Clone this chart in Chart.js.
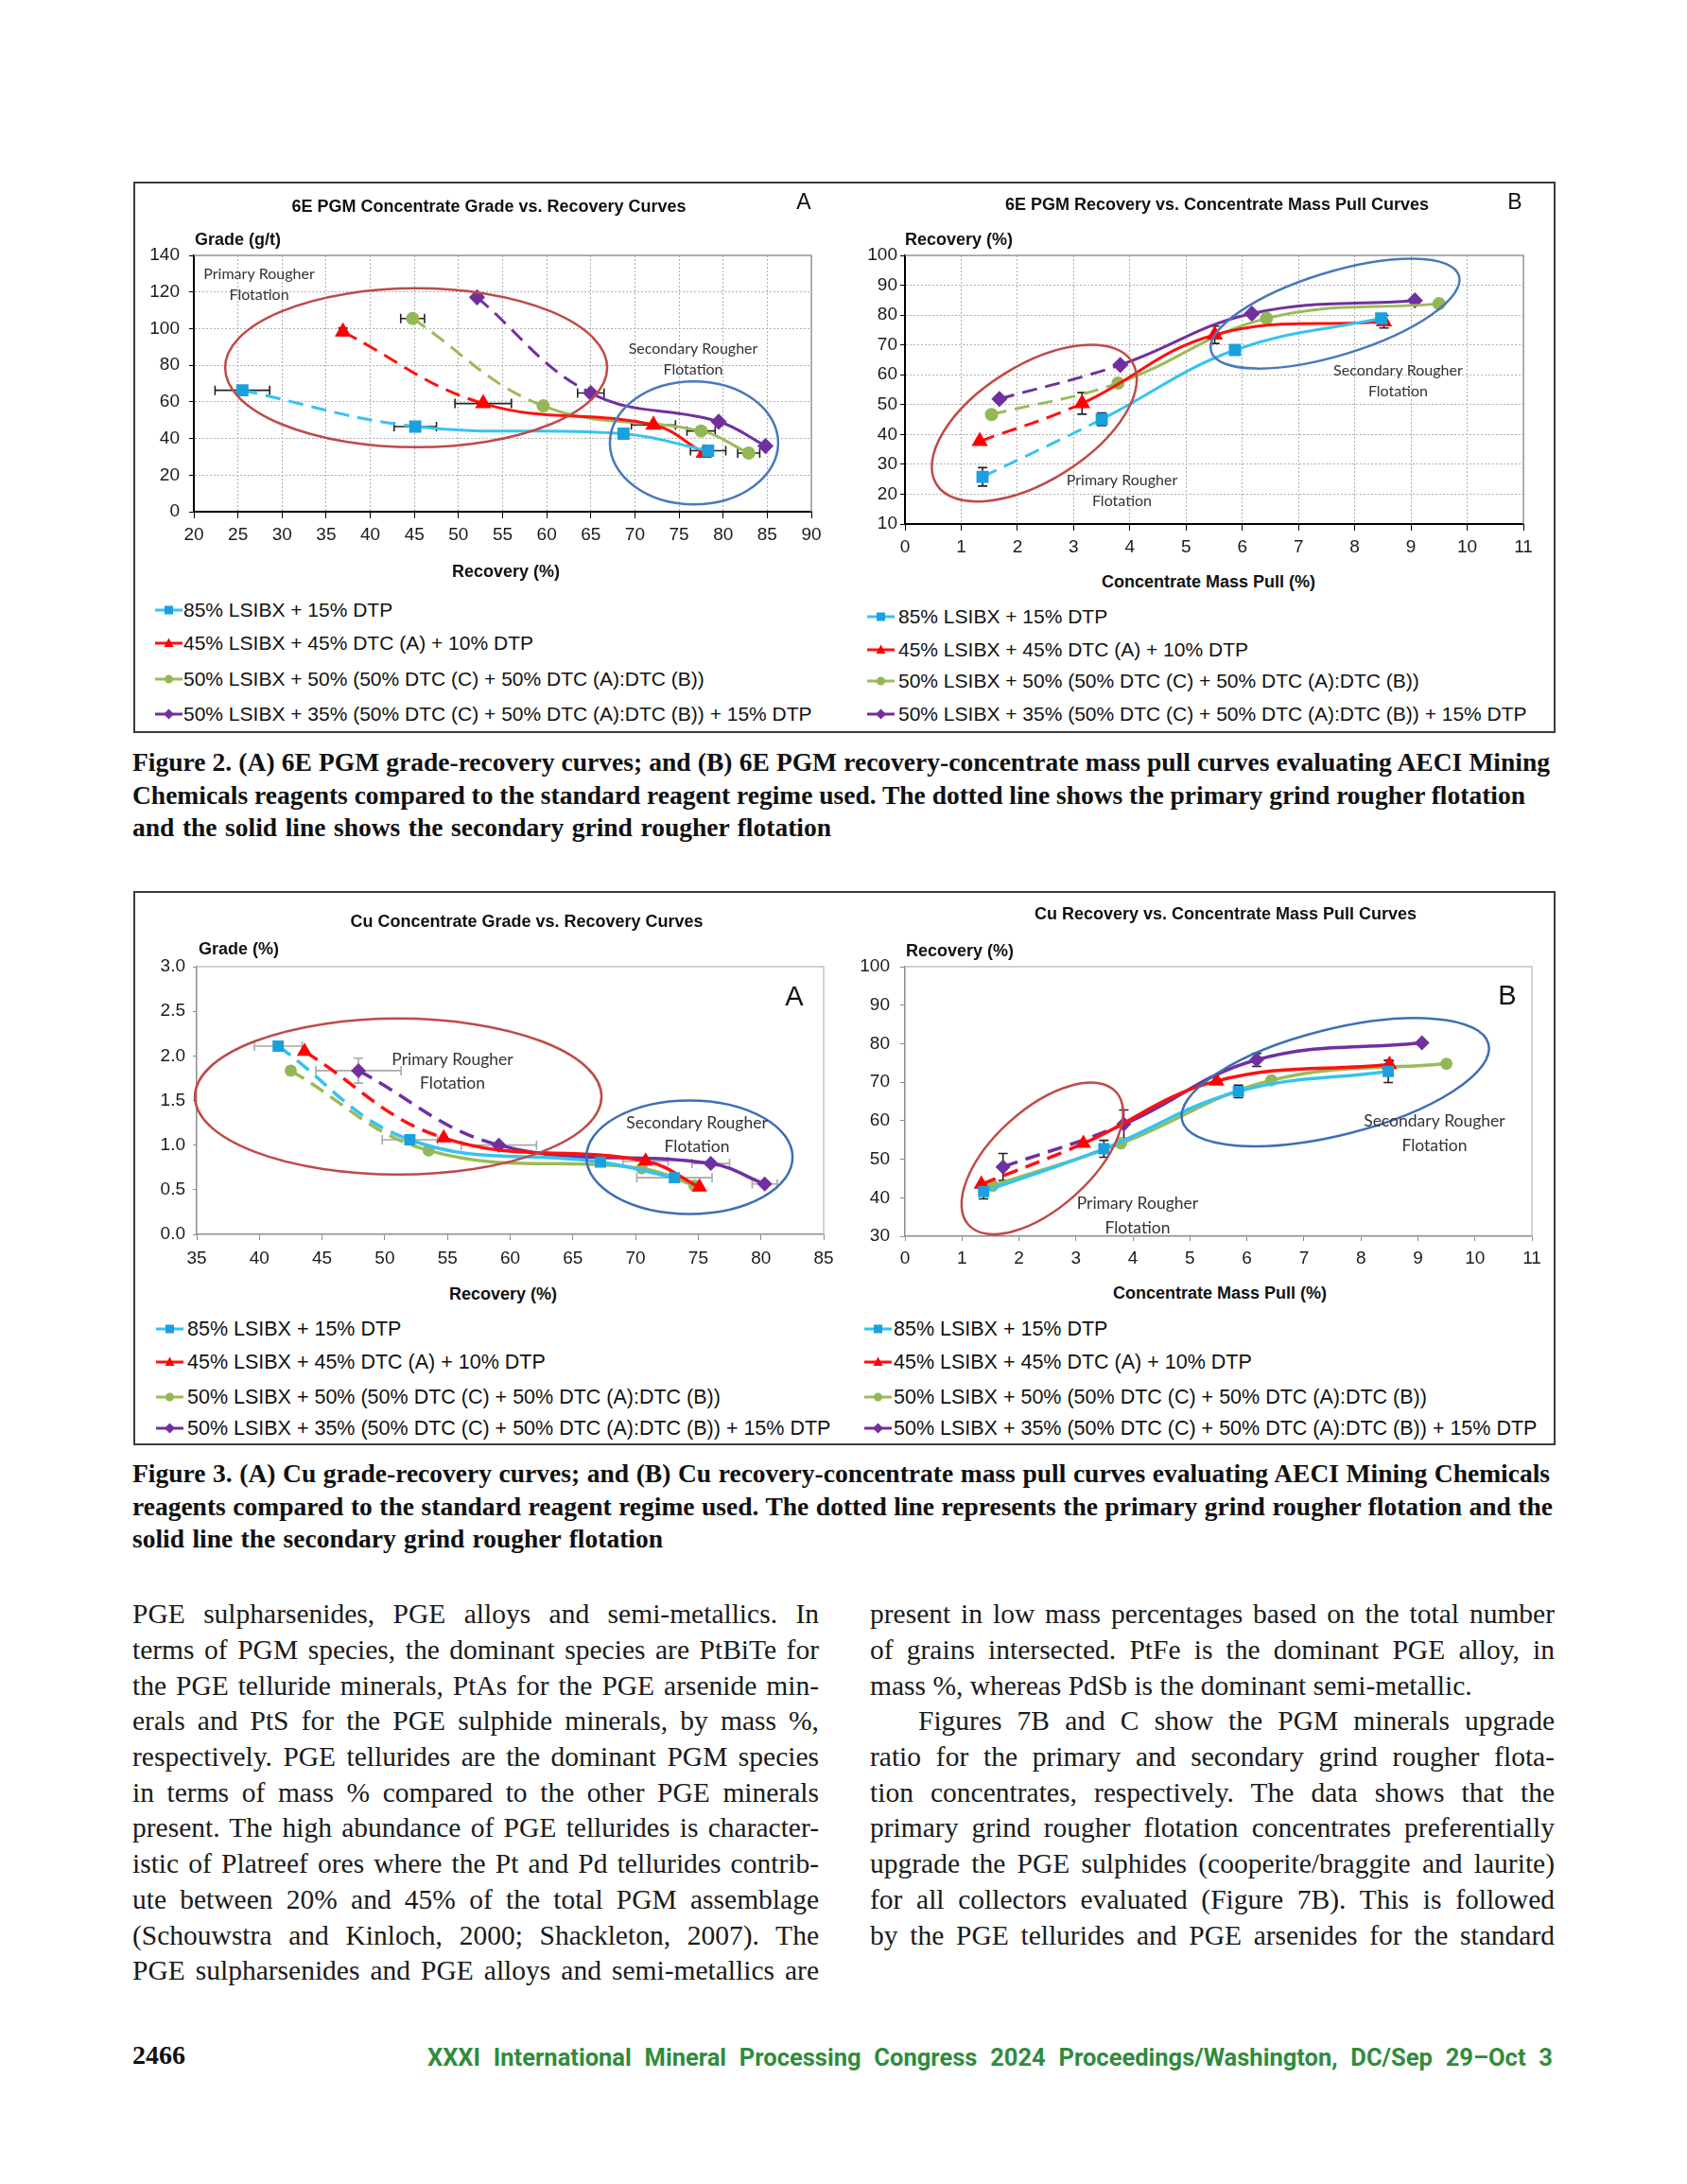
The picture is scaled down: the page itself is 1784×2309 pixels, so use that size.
<!DOCTYPE html>
<html>
<head>
<meta charset="utf-8">
<title>Grade-recovery and recovery-mass pull curves</title>
<script src="https://cdn.jsdelivr.net/npm/chart.js@4.4.1/dist/chart.umd.min.js"></script>
<style>
  html, body { margin: 0; padding: 0; background: #fff; }
  body { position: relative; width: 1784px; height: 2309px; overflow: hidden; }
  .t { position: absolute; white-space: nowrap; line-height: 1; color: #111; }
  .frame { position: absolute; border: 2px solid #3c3c3c; box-sizing: border-box; }
  canvas { position: absolute; }
</style>
</head>
<body>
<div class="frame" style="left:141px;top:192px;width:1504px;height:583px"></div>
<div class="frame" style="left:141px;top:942px;width:1504px;height:586px"></div>
<script>
// the four reagent regimes, same order in every panel
const seriesNames = [
  '85% LSIBX + 15% DTP',
  '45% LSIBX + 45% DTC (A) + 10% DTP',
  '50% LSIBX + 50% (50% DTC (C) + 50% DTC (A):DTC (B))',
  '50% LSIBX + 35% (50% DTC (C) + 50% DTC (A):DTC (B)) + 15% DTP'
];

// Figure 2A - 6E PGM grade (g/t) vs recovery (%)
const pgmGradeRec = [[25.5, 45.1, 68.7, 78.3], [36.9, 52.8, 72.1, 77.8], [44.8, 59.6, 77.5, 82.9], [52.1, 65.0, 79.5, 84.8]];
const pgmGrade = [[66.3, 46.5, 42.6, 33.3], [98.3, 59.1, 47.4, 32.0], [105.5, 57.8, 44.1, 32.0], [117.1, 64.8, 49.2, 35.9]];
const pgmGradeRecErr = [[3.1, 2.4, 0, 2.0], [0, 3.2, 2.5, 0], [1.35, 0, 1.6, 1.25], [0, 1.5, 0, 0]];
const pgmGradeErr = [[0, 0, 0, 0], [2, 0, 0, 0], [0, 0, 0, 0], [0, 0, 0, 0]];

// Figure 2B - 6E PGM recovery (%) vs concentrate mass pull (%)
const pgmMassPull = [[1.38, 3.5, 5.87, 8.47], [1.33, 3.15, 5.51, 8.52], [1.54, 3.79, 6.43, 9.5], [1.68, 3.83, 6.17, 9.07]];
const pgmRecovery = [[25.8, 45.1, 68.3, 78.9], [37.7, 50.4, 73.4, 77.8], [46.7, 57.2, 78.9, 83.8], [51.9, 63.3, 80.5, 84.9]];
const pgmRecoveryErr = [[3.1, 2.1, 0, 0], [0, 3.6, 2.9, 2.1], [0, 0, 0, 0], [0, 0, 0, 0]];

// Figure 3A - Cu grade (%) vs recovery (%)
const cuGradeRec = [[41.5, 52.0, 67.2, 73.1], [43.6, 54.7, 70.8, 75.1], [42.5, 53.5, 70.5, 74.7], [47.9, 59.1, 76.0, 80.3]];
const cuGrade = [[2.11, 1.06, 0.81, 0.635], [2.05, 1.08, 0.82, 0.53], [1.835, 0.94, 0.74, 0.547], [1.835, 1.0, 0.794, 0.564]];
const cuGradeRecErr = [[1.9, 2.2, 0, 3.0], [0, 0, 1.8, 0], [0, 0, 0, 0], [3.4, 3.0, 1.5, 1.0]];
const cuGradeErr = [[0, 0, 0, 0], [0, 0, 0, 0], [0, 0, 0, 0], [0.14, 0, 0, 0]];

// Figure 3B - Cu recovery (%) vs concentrate mass pull (%)
const cuMassPull = [[1.38, 3.49, 5.85, 8.48], [1.34, 3.13, 5.47, 8.5], [1.54, 3.79, 6.43, 9.5], [1.72, 3.84, 6.17, 9.07]];
const cuRecovery = [[41.6, 52.7, 67.6, 72.8], [43.5, 54.1, 70.3, 74.6], [43.1, 54.1, 70.5, 74.8], [48.0, 59.1, 75.8, 80.2]];
const cuRecoveryErr = [[1.9, 2.2, 1.6, 2.9], [0, 0, 0, 1.0], [0, 0, 0, 0], [3.5, 3.7, 1.7, 0]];

// axis ranges [min, max, step]
const axes2A = { x: [20, 90, 5], y: [0, 140, 20] };
const axes2B = { x: [0, 11, 1], y: [10, 100, 10] };
const axes3A = { x: [35, 85, 5], y: [0, 3, 0.5] };
const axes3B = { x: [0, 11, 1], y: [30, 100, 10] };

// styling
const lineColors = ['#35C3F2', '#FF1010', '#9BBB59', '#7030A0'];
const markerColors = ['#1BA0DD', '#FF0000', '#94B756', '#7030A0'];
const markerStyles = ['rect', 'triangle', 'circle', 'rectRot'];
const markerRadius = [7, 7, 5.5, 6.5];
const SANS = "'Liberation Sans', Arial, sans-serif";
const NOTE = "Lato, 'Open Sans', sans-serif";

function txt(s, x, y, css, anchor) {
  const d = document.createElement('div');
  d.className = 't';
  d.textContent = s;
  d.style.cssText += css;
  d.style.left = x + 'px';
  d.style.top = y + 'px';
  d.style.transform = anchor === 'c' ? 'translate(-50%,-50%)' : 'translate(0,-50%)';
  document.body.appendChild(d);
  return d;
}

function decor(o) {
  return {
    id: 'decor',
    beforeDatasetsDraw(chart) {
      const { ctx, chartArea: a, scales: { x, y } } = chart;
      ctx.save();
      ctx.strokeStyle = o.frameColor;
      ctx.lineWidth = 1.5;
      ctx.beginPath();
      ctx.moveTo(a.left, a.top); ctx.lineTo(a.right, a.top); ctx.lineTo(a.right, a.bottom);
      ctx.stroke();
      // error bars
      ctx.strokeStyle = o.errColor;
      ctx.lineWidth = 1.6;
      o.xs.forEach((xv, i) => xv.forEach((xx, j) => {
        const yy = o.ys[i][j];
        const px = x.getPixelForValue(xx), py = y.getPixelForValue(yy);
        const ex = o.xErr ? o.xErr[i][j] : 0, ey = o.yErr ? o.yErr[i][j] : 0;
        ctx.beginPath();
        if (ex) {
          const l = x.getPixelForValue(xx - ex), r = x.getPixelForValue(xx + ex);
          ctx.moveTo(l, py); ctx.lineTo(r, py);
          ctx.moveTo(l, py - 5); ctx.lineTo(l, py + 5);
          ctx.moveTo(r, py - 5); ctx.lineTo(r, py + 5);
        }
        if (ey) {
          const t = y.getPixelForValue(yy + ey), b = y.getPixelForValue(yy - ey);
          ctx.moveTo(px, t); ctx.lineTo(px, b);
          ctx.moveTo(px - 5, t); ctx.lineTo(px + 5, t);
          ctx.moveTo(px - 5, b); ctx.lineTo(px + 5, b);
        }
        ctx.stroke();
      }));
      ctx.restore();
    },
    afterDatasetsDraw(chart) {
      const { ctx, scales: { x, y } } = chart;
      ctx.save();
      ctx.lineWidth = 2.5;
      o.ellipses.forEach(e => {
        ctx.strokeStyle = e.color;
        ctx.beginPath();
        ctx.ellipse(x.getPixelForValue(e.cx), y.getPixelForValue(e.cy), e.rx, e.ry, e.rot * Math.PI / 180, 0, Math.PI * 2);
        ctx.stroke();
      });
      ctx.fillStyle = '#333';
      ctx.font = o.noteSize + 'px ' + NOTE;
      ctx.textAlign = 'center';
      ctx.textBaseline = 'middle';
      o.notes.forEach(n => ctx.fillText(n.t, x.getPixelForValue(n.x), y.getPixelForValue(n.y)));
      ctx.restore();
    }
  };
}

function buildChart(o) {
  const cv = document.createElement('canvas');
  cv.width = o.canvas.w; cv.height = o.canvas.h;
  cv.style.left = o.canvas.x + 'px'; cv.style.top = o.canvas.y + 'px';
  cv.style.width = o.canvas.w + 'px'; cv.style.height = o.canvas.h + 'px';
  document.body.appendChild(cv);
  const XH = 46;
  const datasets = o.xs.map((xv, i) => ({
    label: seriesNames[i],
    data: xv.map((xx, j) => ({ x: xx, y: o.ys[i][j] })),
    borderColor: lineColors[i],
    backgroundColor: markerColors[i],
    pointBorderColor: markerColors[i],
    pointBackgroundColor: markerColors[i],
    pointStyle: markerStyles[i],
    pointRadius: markerRadius[i] * o.markerScale,
    borderWidth: o.lineWidth,
    tension: 0.4,
    fill: false,
    segment: { borderDash: c => (c.p0DataIndex < o.dashed[i] ? [16, 9] : undefined) }
  }));
  const tickFont = { family: SANS, size: 19 };
  const axis = (rng, fit, tl, pad, fmt) => ({
    type: 'linear', min: rng[0], max: rng[1],
    ticks: { stepSize: rng[2], autoSkip: false, maxRotation: 0, color: '#1a1a1a', font: tickFont, padding: pad,
             callback: fmt || (v => v) },
    grid: { drawOnChartArea: o.grid, color: '#b0b0b0', tickColor: o.axisColor, tickLength: tl, lineWidth: 1 },
    border: { color: o.axisColor, width: o.axisWidth, dash: [2, 2] },
    afterFit: fit
  });
  new Chart(cv, {
    type: 'line',
    data: { datasets },
    options: {
      responsive: false, animation: false, events: [],
      layout: { padding: { left: 0, top: o.plot.t - o.canvas.y, right: o.canvas.x + o.canvas.w - o.plot.r,
                           bottom: o.canvas.y + o.canvas.h - o.plot.b - XH } },
      plugins: { legend: { display: false }, tooltip: { enabled: false } },
      scales: {
        x: axis(o.axes.x, s => { s.height = XH; }, o.xTick[0], o.xTick[1]),
        y: axis(o.axes.y, s => { s.width = o.plot.l - o.canvas.x; }, o.yTick[0], o.yTick[1], o.yFmt)
      }
    },
    plugins: [decor(o)]
  });
}

// ---- Figure 2 -------------------------------------------------------
buildChart({
  canvas: { x: 143, y: 200, w: 775, h: 395 }, plot: { l: 205, r: 858, t: 270, b: 541 },
  xs: pgmGradeRec, ys: pgmGrade, xErr: pgmGradeRecErr, yErr: pgmGradeErr, axes: axes2A,
  xTick: [7, 6], yTick: [5, 10], grid: true, axisColor: '#000', axisWidth: 2, frameColor: '#9a9a9a',
  errColor: '#222', lineWidth: 3, markerScale: 1, dashed: [1, 1, 1, 1], noteSize: 16,
  ellipses: [{ cx: 45.2, cy: 78.6, rx: 202, ry: 84, rot: 0, color: '#BF4A48' },
             { cx: 76.7, cy: 37.6, rx: 89, ry: 65, rot: 0, color: '#4A78BE' }],
  notes: [{ t: 'Primary Rougher', x: 27.4, y: 130 }, { t: 'Flotation', x: 27.4, y: 118.6 },
          { t: 'Secondary Rougher', x: 76.6, y: 89 }, { t: 'Flotation', x: 76.6, y: 77.6 }]
});
buildChart({
  canvas: { x: 905, y: 200, w: 735, h: 400 }, plot: { l: 957, r: 1611, t: 270, b: 554 },
  xs: pgmMassPull, ys: pgmRecovery, yErr: pgmRecoveryErr, axes: axes2B,
  xTick: [7, 6], yTick: [5, 3], grid: true, axisColor: '#000', axisWidth: 2, frameColor: '#9a9a9a',
  errColor: '#222', lineWidth: 3, markerScale: 1, dashed: [1, 1, 1, 1], noteSize: 16,
  ellipses: [{ cx: 2.30, cy: 43.8, rx: 122, ry: 61, rot: -32, color: '#BF4A48' },
             { cx: 7.65, cy: 80.5, rx: 137, ry: 44, rot: -17, color: '#4A78BE' }],
  notes: [{ t: 'Primary Rougher', x: 3.86, y: 24.7 }, { t: 'Flotation', x: 3.86, y: 17.6 },
          { t: 'Secondary Rougher', x: 8.77, y: 61.5 }, { t: 'Flotation', x: 8.77, y: 54.4 }]
});

// ---- Figure 3 -------------------------------------------------------
buildChart({
  canvas: { x: 143, y: 950, w: 760, h: 402 }, plot: { l: 208, r: 871, t: 1022, b: 1305 },
  xs: cuGradeRec, ys: cuGrade, xErr: cuGradeRecErr, yErr: cuGradeErr, axes: axes3A,
  xTick: [6, 8], yTick: [4, 8], grid: false, axisColor: '#8c8c8c', axisWidth: 1.5, frameColor: '#c4c4c4',
  errColor: '#a8a8a8', lineWidth: 3.5, markerScale: 0.85, dashed: [1, 1, 1, 1], noteSize: 17.5,
  yFmt: v => v.toFixed(1),
  ellipses: [{ cx: 51.07, cy: 1.544, rx: 215, ry: 82.5, rot: 0, color: '#BF4A48' },
             { cx: 74.3, cy: 0.865, rx: 109, ry: 60, rot: 0, color: '#3D6FB6' }],
  notes: [{ t: 'Primary Rougher', x: 55.4, y: 1.96 }, { t: 'Flotation', x: 55.4, y: 1.69 },
          { t: 'Secondary Rougher', x: 74.9, y: 1.25 }, { t: 'Flotation', x: 74.9, y: 0.98 }]
});
buildChart({
  canvas: { x: 905, y: 950, w: 735, h: 405 }, plot: { l: 957, r: 1620, t: 1022, b: 1307 },
  xs: cuMassPull, ys: cuRecovery, yErr: cuRecoveryErr, axes: axes3B,
  xTick: [5, 7], yTick: [5, 11], grid: false, axisColor: '#8c8c8c', axisWidth: 1.5, frameColor: '#c4c4c4',
  errColor: '#222', lineWidth: 3.5, markerScale: 0.85, dashed: [0, 1, 0, 1], noteSize: 17.5,
  ellipses: [{ cx: 2.41, cy: 50.2, rx: 105, ry: 52, rot: -42, color: '#BF4A48' },
             { cx: 7.55, cy: 70.0, rx: 167, ry: 56, rot: -14, color: '#3D6FB6' }],
  notes: [{ t: 'Primary Rougher', x: 4.08, y: 38.6 }, { t: 'Flotation', x: 4.08, y: 32.2 },
          { t: 'Secondary Rougher', x: 9.29, y: 59.9 }, { t: 'Flotation', x: 9.29, y: 53.6 }]
});

// ---- chart titles, axis titles, panel letters -----------------------
const bold = `font:bold 18px ${SANS};`;
txt('6E PGM Concentrate Grade vs. Recovery Curves', 517, 218, bold, 'c');
txt('6E PGM Recovery  vs. Concentrate Mass Pull Curves', 1287, 216, bold, 'c');
txt('Cu Concentrate Grade vs. Recovery Curves', 557, 974, bold, 'c');
txt('Cu Recovery vs. Concentrate Mass Pull Curves', 1296, 966, bold, 'c');
txt('A', 850, 213, `font:23px ${SANS};`, 'c');
txt('B', 1602, 213, `font:23px ${SANS};`, 'c');
txt('A', 840, 1053, `font:29px ${SANS};`, 'c');
txt('B', 1594, 1052, `font:29px ${SANS};`, 'c');
txt('Grade (g/t)', 206, 253, bold, 'l');
txt('Recovery (%)', 957, 253, bold, 'l');
txt('Grade (%)', 210, 1003, bold, 'l');
txt('Recovery (%)', 958, 1005, bold, 'l');
txt('Recovery (%)', 535, 604, bold, 'c');
txt('Concentrate Mass Pull (%)', 1278, 615, bold, 'c');
txt('Recovery (%)', 532, 1368, bold, 'c');
txt('Concentrate Mass Pull (%)', 1290, 1367, bold, 'c');

// ---- legends ---------------------------------------------------------
function markerSvg(i) {
  const c = markerColors[i];
  if (markerStyles[i] === 'rect') return `<rect x="10" y="4.5" width="9" height="9" fill="${c}"/>`;
  if (markerStyles[i] === 'triangle') return `<polygon points="14.5,3.5 19.5,13 9.5,13" fill="${c}"/>`;
  if (markerStyles[i] === 'circle') return `<circle cx="14.5" cy="9" r="4.5" fill="${c}"/>`;
  return `<polygon points="14.5,3.5 20,9 14.5,14.5 9,9" fill="${c}"/>`;
}
function legend(mx, tx, ys, size) {
  seriesNames.forEach((name, i) => {
    const s = document.createElement('div');
    s.style.cssText = `position:absolute;left:${mx}px;top:${ys[i] - 9}px;width:29px;height:18px`;
    s.innerHTML = `<svg width="29" height="18"><line x1="0" y1="9" x2="29" y2="9" stroke="${lineColors[i]}" stroke-width="3"/>${markerSvg(i)}</svg>`;
    document.body.appendChild(s);
    txt(name, tx, ys[i], `font:${size}px ${SANS};`, 'l');
  });
}
legend(164, 194, [645, 680, 718, 755], 21);
legend(917, 950, [652, 687, 720, 755], 21);
legend(165, 198, [1405, 1440, 1477, 1510], 21.5);
legend(914, 945, [1405, 1440, 1477, 1510], 21.5);

// ---- captions, body text, footer -----------------------------------
function fitLine(el, width) {
  const spaces = (el.textContent.match(/ /g) || []).length;
  if (!spaces) return;
  const w = el.getBoundingClientRect().width;
  el.style.wordSpacing = ((width - w) / spaces) + 'px';
}
function textLine(s, x, baseline, size, css, width) {
  const d = document.createElement('div');
  d.className = 't';
  d.textContent = s;
  d.style.cssText += css;
  d.style.left = x + 'px';
  d.style.top = (baseline - 0.84 * size) + 'px';
  document.body.appendChild(d);
  if (width) fitLine(d, width);
  return d;
}
const capCss = "font:bold 27.5px 'Liberation Serif', 'DejaVu Serif', serif;color:#111;";
[['Figure 2. (A) 6E PGM grade-recovery curves; and (B) 6E PGM recovery-concentrate mass pull curves evaluating AECI Mining', 813, 1499],
 ['Chemicals reagents compared to the standard reagent regime used. The dotted line shows the primary grind rougher flotation', 848, 1473],
 ['and the solid line shows the secondary grind rougher flotation', 882, 739],
 ['Figure 3. (A) Cu grade-recovery curves; and (B) Cu recovery-concentrate mass pull curves evaluating AECI Mining Chemicals', 1565, 1499],
 ['reagents compared to the standard reagent regime used. The dotted line represents the primary grind rougher flotation and the', 1600, 1502],
 ['solid line the secondary grind rougher flotation', 1634, 561]
].forEach(r => textLine(r[0], 140, r[1], 27.5, capCss, r[2]));

const bodyCss = "font:29.5px 'Liberation Serif', 'DejaVu Serif', serif;color:#1a1a1a;";
const leftCol = [
  'PGE sulpharsenides, PGE alloys and semi-metallics. In',
  'terms of PGM species, the dominant species are PtBiTe for',
  'the PGE telluride minerals, PtAs for the PGE arsenide min-',
  'erals and PtS for the PGE sulphide minerals, by mass %,',
  'respectively. PGE tellurides are the dominant PGM species',
  'in terms of mass % compared to the other PGE minerals',
  'present. The high abundance of PGE tellurides is character-',
  'istic of Platreef ores where the Pt and Pd tellurides contrib-',
  'ute between 20% and 45% of the total PGM assemblage',
  '(Schouwstra and Kinloch, 2000; Shackleton, 2007). The',
  'PGE sulpharsenides and PGE alloys and semi-metallics are'
];
const rightCol = [
  'present in low mass percentages based on the total number',
  'of grains intersected. PtFe is the dominant PGE alloy, in',
  'mass %, whereas PdSb is the dominant semi-metallic.',
  'Figures 7B and C show the PGM minerals upgrade',
  'ratio for the primary and secondary grind rougher flota-',
  'tion concentrates, respectively. The data shows that the',
  'primary grind rougher flotation concentrates preferentially',
  'upgrade the PGE sulphides (cooperite/braggite and laurite)',
  'for all collectors evaluated (Figure 7B). This is followed',
  'by the PGE tellurides and PGE arsenides for the standard'
];
const LH = 37.7;
leftCol.forEach((s, i) => textLine(s, 140, 1715 + i * LH, 29.5, bodyCss, 726));
rightCol.forEach((s, i) => {
  if (i === 2) textLine(s, 920, 1715 + i * LH, 29.5, bodyCss, 0);
  else if (i === 3) textLine(s, 971, 1715 + i * LH, 29.5, bodyCss, 673);
  else textLine(s, 920, 1715 + i * LH, 29.5, bodyCss, 724);
});

textLine('2466', 140, 2181, 28, "font:bold 28px 'Liberation Serif', serif;color:#111;", 0);
textLine('XXXI International Mineral Processing Congress 2024 Proceedings/Washington, DC/Sep 29\u2013Oct 3', 452, 2181, 25.5,
  "font:bold 25.5px Roboto, 'Liberation Sans', sans-serif;color:#2F8C3C;", 1190);
</script>
</body>
</html>
